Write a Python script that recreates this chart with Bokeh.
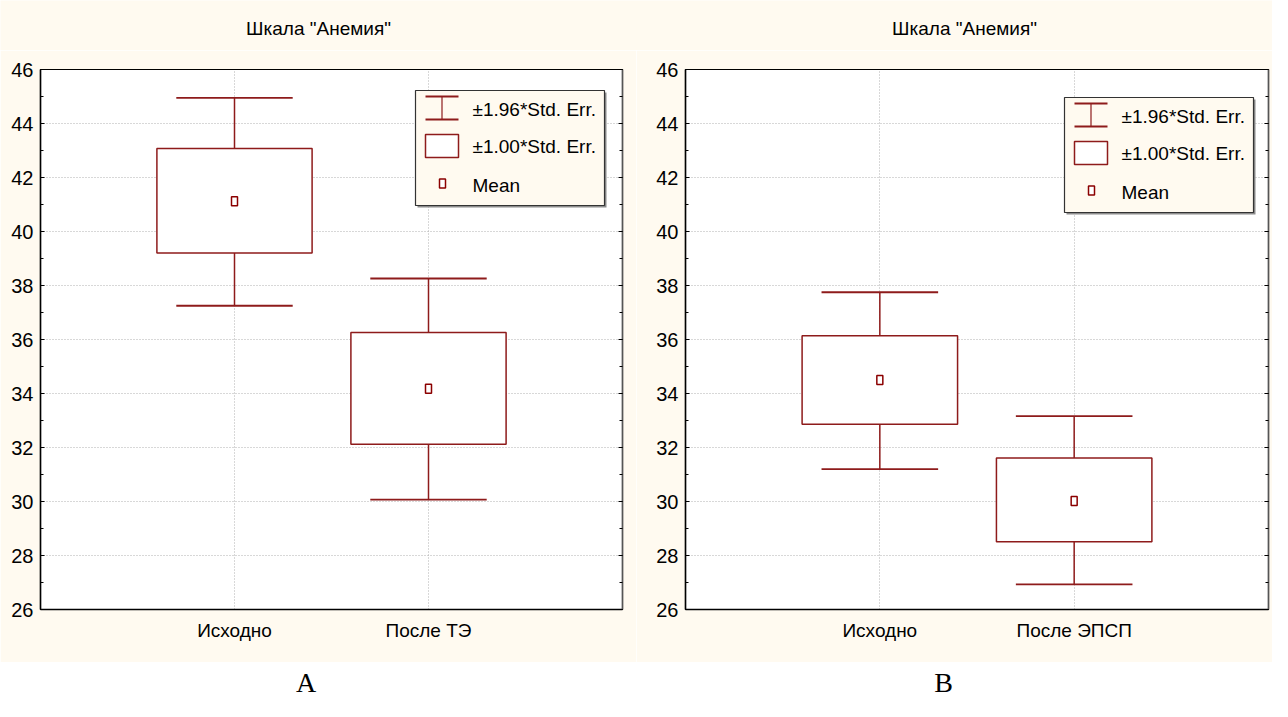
from bokeh.plotting import figure
from bokeh.models import Range1d, FixedTicker, SingleIntervalTicker, LinearAxis, CustomJSTickFormatter
from bokeh.layouts import column, row
from bokeh.embed import file_html
from bokeh.resources import INLINE
from bokeh.core.properties import value

# ---------------- data ----------------
TITLES = ['Шкала "Анемия"', 'Шкала "Анемия"']
PANEL_LABELS = ["A", "B"]

CATS_A = ["Исходно", "После ТЭ"]
MEAN_A = [41.12, 34.18]
SE1_LO_A = [39.20, 32.12]
SE1_HI_A = [43.07, 36.26]
SE196_LO_A = [37.25, 30.07]
SE196_HI_A = [44.95, 38.26]

CATS_B = ["Исходно", "После ЭПСП"]
MEAN_B = [34.50, 30.02]
SE1_LO_B = [32.86, 28.51]
SE1_HI_B = [36.14, 31.61]
SE196_LO_B = [31.20, 26.93]
SE196_HI_B = [37.75, 33.16]

Y_MIN, Y_MAX, Y_STEP = 26, 46, 2
LEGEND_LABELS = ["±1.96*Std. Err.", "±1.00*Std. Err.", "Mean"]

# ---------------- style ----------------
FONT = "Liberation Sans"
SERIF = "Liberation Serif"
FS = "19px"
FS_Y = "20px"
CREAM = "#fffaf0"
RED = "#8e1b1b"
DARKRED = "#8b0000"
GRID = "#b0b0b0"
FRAME_H = 540
TOTAL_W = 1272


def make_panel(cats, mean, lo1, hi1, lo2, hi2, border_left, frame_w, border_right, leg_left, leg_top):
    xs = [i + 1 for i in range(len(cats))]
    x0, x1 = 0, len(cats) + 1
    p = figure(frame_width=frame_w, frame_height=FRAME_H,
               min_border_left=border_left, min_border_right=border_right,
               min_border_top=19, min_border_bottom=53,
               x_range=Range1d(x0, x1), y_range=Range1d(Y_MIN, Y_MAX),
               toolbar_location=None, tools="", output_backend="svg")
    p.border_fill_color = CREAM
    p.background_fill_color = "white"
    p.outline_line_color = "black"
    p.outline_line_width = 1.2

    yt = SingleIntervalTicker(interval=Y_STEP, num_minor_ticks=2)
    p.yaxis.ticker = yt
    p.yaxis.major_tick_in = 4
    p.yaxis.major_tick_out = 0
    p.yaxis.minor_tick_in = 3
    p.yaxis.minor_tick_out = 0
    p.yaxis.major_label_standoff = 7
    p.yaxis.axis_line_width = 1.5
    p.yaxis.major_label_text_font = FONT
    p.yaxis.major_label_text_font_size = FS_Y
    p.yaxis.major_label_text_color = "black"

    p.xaxis.ticker = FixedTicker(ticks=xs)
    p.xaxis.major_label_overrides = {x: c for x, c in zip(xs, cats)}
    p.xaxis.major_tick_in = 0
    p.xaxis.major_tick_out = 0
    p.xaxis.minor_tick_line_color = None
    p.xaxis.major_label_standoff = 10
    p.xaxis.axis_line_width = 1.5
    p.xaxis.major_label_text_font = FONT
    p.xaxis.major_label_text_font_size = FS
    p.xaxis.major_label_text_color = "black"

    ra = LinearAxis(ticker=SingleIntervalTicker(interval=Y_STEP, num_minor_ticks=2),
                    formatter=CustomJSTickFormatter(code="return ''"),
                    major_tick_in=4, major_tick_out=0, minor_tick_in=3, minor_tick_out=0,
                    major_label_standoff=0, axis_line_color="#555555", axis_line_width=1.5)
    p.add_layout(ra, "right")

    p.ygrid.ticker = yt
    p.ygrid.grid_line_color = GRID
    p.ygrid.grid_line_dash = "1 2"
    p.xgrid.ticker = FixedTicker(ticks=xs)
    p.xgrid.grid_line_color = GRID
    p.xgrid.grid_line_dash = "1 2"

    # whiskers (±1.96 SE)
    p.segment(x0=xs, x1=xs, y0=hi1, y1=hi2, line_color=RED, line_width=1.5)
    p.segment(x0=xs, x1=xs, y0=lo1, y1=lo2, line_color=RED, line_width=1.5)
    p.segment(x0=[x - 0.3 for x in xs], x1=[x + 0.3 for x in xs], y0=hi2, y1=hi2,
              line_color=RED, line_width=1.8)
    p.segment(x0=[x - 0.3 for x in xs], x1=[x + 0.3 for x in xs], y0=lo2, y1=lo2,
              line_color=RED, line_width=1.8)
    # boxes (±1.00 SE)
    p.quad(left=[x - 0.4 for x in xs], right=[x + 0.4 for x in xs], top=hi1, bottom=lo1,
           fill_color="white", line_color=RED, line_width=1.5)
    # means
    p.rect(x=xs, y=mean, width=6, height=9, width_units="screen", height_units="screen",
           fill_color="white", line_color=DARKRED, line_width=1.5)

    # ---- legend (positioned in frame pixels) ----
    fx = (x1 - x0) / frame_w
    fy = (Y_MAX - Y_MIN) / FRAME_H

    def dx(px):
        return x0 + (leg_left + px) * fx

    def dy(py):
        return Y_MAX - (leg_top + py) * fy

    LW, LH = 189, 115
    p.quad(left=[dx(2)], right=[dx(LW + 2)], top=[dy(2)], bottom=[dy(LH + 2)],
           fill_color="#8c8c8c", line_color=None)
    p.quad(left=[dx(0)], right=[dx(LW)], top=[dy(0)], bottom=[dy(LH)],
           fill_color=CREAM, line_color="#333333", line_width=1.2)
    p.segment(x0=[dx(26.5)], x1=[dx(26.5)], y0=[dy(6)], y1=[dy(29)], line_color=RED, line_width=1.2)
    p.segment(x0=[dx(10), dx(10)], x1=[dx(43), dx(43)], y0=[dy(6), dy(29)], y1=[dy(6), dy(29)],
              line_color=RED, line_width=1.8)
    p.quad(left=[dx(10)], right=[dx(43)], top=[dy(44)], bottom=[dy(67)],
           fill_color="white", line_color=RED, line_width=1.5)
    p.rect(x=[dx(27)], y=[dy(93)], width=6, height=9, width_units="screen", height_units="screen",
           fill_color="white", line_color=DARKRED, line_width=1.5)
    p.text(x=[dx(57)] * 3, y=[dy(19), dy(56), dy(95)], text=LEGEND_LABELS,
           text_font=value(FONT), text_font_size=FS, text_color="black",
           text_baseline="middle", text_align="left")
    return p


pA = make_panel(CATS_A, MEAN_A, SE1_LO_A, SE1_HI_A, SE196_LO_A, SE196_HI_A,
                border_left=40, frame_w=582, border_right=14, leg_left=375, leg_top=21)
pB = make_panel(CATS_B, MEAN_B, SE1_LO_B, SE1_HI_B, SE196_LO_B, SE196_HI_B,
                border_left=49, frame_w=583, border_right=4, leg_left=379, leg_top=28)

# header with titles
head = figure(width=TOTAL_W, height=50, x_range=Range1d(0, TOTAL_W), y_range=Range1d(50, 0),
              x_axis_location=None, y_axis_location=None, min_border=0,
              toolbar_location=None, tools="", output_backend="svg")
head.grid.visible = False
head.outline_line_color = None
head.background_fill_color = CREAM
head.border_fill_color = CREAM
head.text(x=[318, 964], y=[28, 28], text=TITLES, text_font=value(FONT), text_font_size=FS,
          text_color="black", text_align="center", text_baseline="middle")

# footer with panel letters
foot = figure(width=TOTAL_W, height=39, x_range=Range1d(0, TOTAL_W), y_range=Range1d(39, 0),
              x_axis_location=None, y_axis_location=None, min_border=0,
              toolbar_location=None, tools="", output_backend="svg")
foot.grid.visible = False
foot.outline_line_color = None
foot.background_fill_color = "white"
foot.border_fill_color = "white"
foot.text(x=[305.5, 943], y=[20, 20], text=PANEL_LABELS, text_font=value(SERIF), text_font_size="28px",
          text_color="black", text_align="center", text_baseline="middle")

layout = column(head, row(pA, pB), foot, spacing=0)
open("out.html", "w").write(file_html(layout, INLINE))
